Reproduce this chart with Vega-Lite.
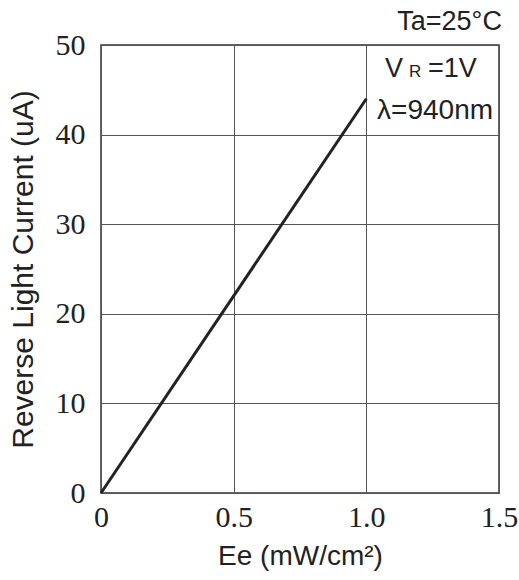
{
  "$schema": "https://vega.github.io/schema/vega-lite/v6.json",
  "width": 398,
  "height": 448,
  "autosize": {"type": "none"},
  "padding": {"left": 101, "top": 45, "right": 20, "bottom": 87},
  "background": "white",
  "config": {
    "view": {"stroke": "#333333", "strokeWidth": 1.5},
    "axis": {
      "grid": true,
      "gridColor": "#555555",
      "gridWidth": 1,
      "gridOpacity": 1,
      "ticks": false,
      "domain": false,
      "labelFont": "Liberation Serif",
      "labelFontSize": 30,
      "labelColor": "#222222",
      "titleFont": "Liberation Sans",
      "titleFontSize": 28,
      "titleFontWeight": "normal",
      "titleColor": "#222222"
    }
  },
  "layer": [
    {
      "data": {"values": [{"Ee": 0, "I": 0}, {"Ee": 1.0, "I": 44}]},
      "mark": {"type": "line", "color": "#222222", "strokeWidth": 3},
      "encoding": {
        "x": {
          "field": "Ee",
          "type": "quantitative",
          "scale": {"domain": [0, 1.5], "nice": false, "zero": true},
          "axis": {
            "values": [0, 0.5, 1, 1.5],
            "labelExpr": "datum.value == 0 ? '0' : format(datum.value, '.1f')",
            "labelPadding": 9,
            "labelFlush": false,
            "title": "Ee (mW/cm²)",
            "titlePadding": 10
          }
        },
        "y": {
          "field": "I",
          "type": "quantitative",
          "scale": {"domain": [0, 50], "nice": false},
          "axis": {
            "values": [0, 10, 20, 30, 40, 50],
            "labelPadding": 16,
            "labelFlush": false,
            "title": "Reverse Light Current (uA)",
            "titleFontSize": 30,
            "titlePadding": 17
          }
        }
      }
    },
    {
      "data": {"values": [{"Ee": 1.511, "I": 51.7, "t": "Ta=25°C"}]},
      "mark": {"type": "text", "align": "right", "baseline": "alphabetic", "font": "Liberation Sans", "fontSize": 27, "color": "#222222"},
      "encoding": {
        "x": {"field": "Ee", "type": "quantitative"},
        "y": {"field": "I", "type": "quantitative"},
        "text": {"field": "t"}
      }
    },
    {
      "data": {"values": [{"Ee": 1.07, "I": 46.4, "t": "V"}, {"Ee": 1.232, "I": 46.4, "t": "=1V"}]},
      "mark": {"type": "text", "align": "left", "baseline": "alphabetic", "font": "Liberation Sans", "fontSize": 27, "color": "#222222"},
      "encoding": {
        "x": {"field": "Ee", "type": "quantitative"},
        "y": {"field": "I", "type": "quantitative"},
        "text": {"field": "t"}
      }
    },
    {
      "data": {"values": [{"Ee": 1.161, "I": 46.4, "t": "R"}]},
      "mark": {"type": "text", "align": "left", "baseline": "alphabetic", "font": "Liberation Sans", "fontSize": 17, "color": "#222222"},
      "encoding": {
        "x": {"field": "Ee", "type": "quantitative"},
        "y": {"field": "I", "type": "quantitative"},
        "text": {"field": "t"}
      }
    },
    {
      "data": {"values": [{"Ee": 1.259, "I": 41.7, "t": "λ=940nm"}]},
      "mark": {"type": "text", "align": "center", "baseline": "alphabetic", "font": "Liberation Sans", "fontSize": 28, "color": "#222222"},
      "encoding": {
        "x": {"field": "Ee", "type": "quantitative"},
        "y": {"field": "I", "type": "quantitative"},
        "text": {"field": "t"}
      }
    }
  ]
}
